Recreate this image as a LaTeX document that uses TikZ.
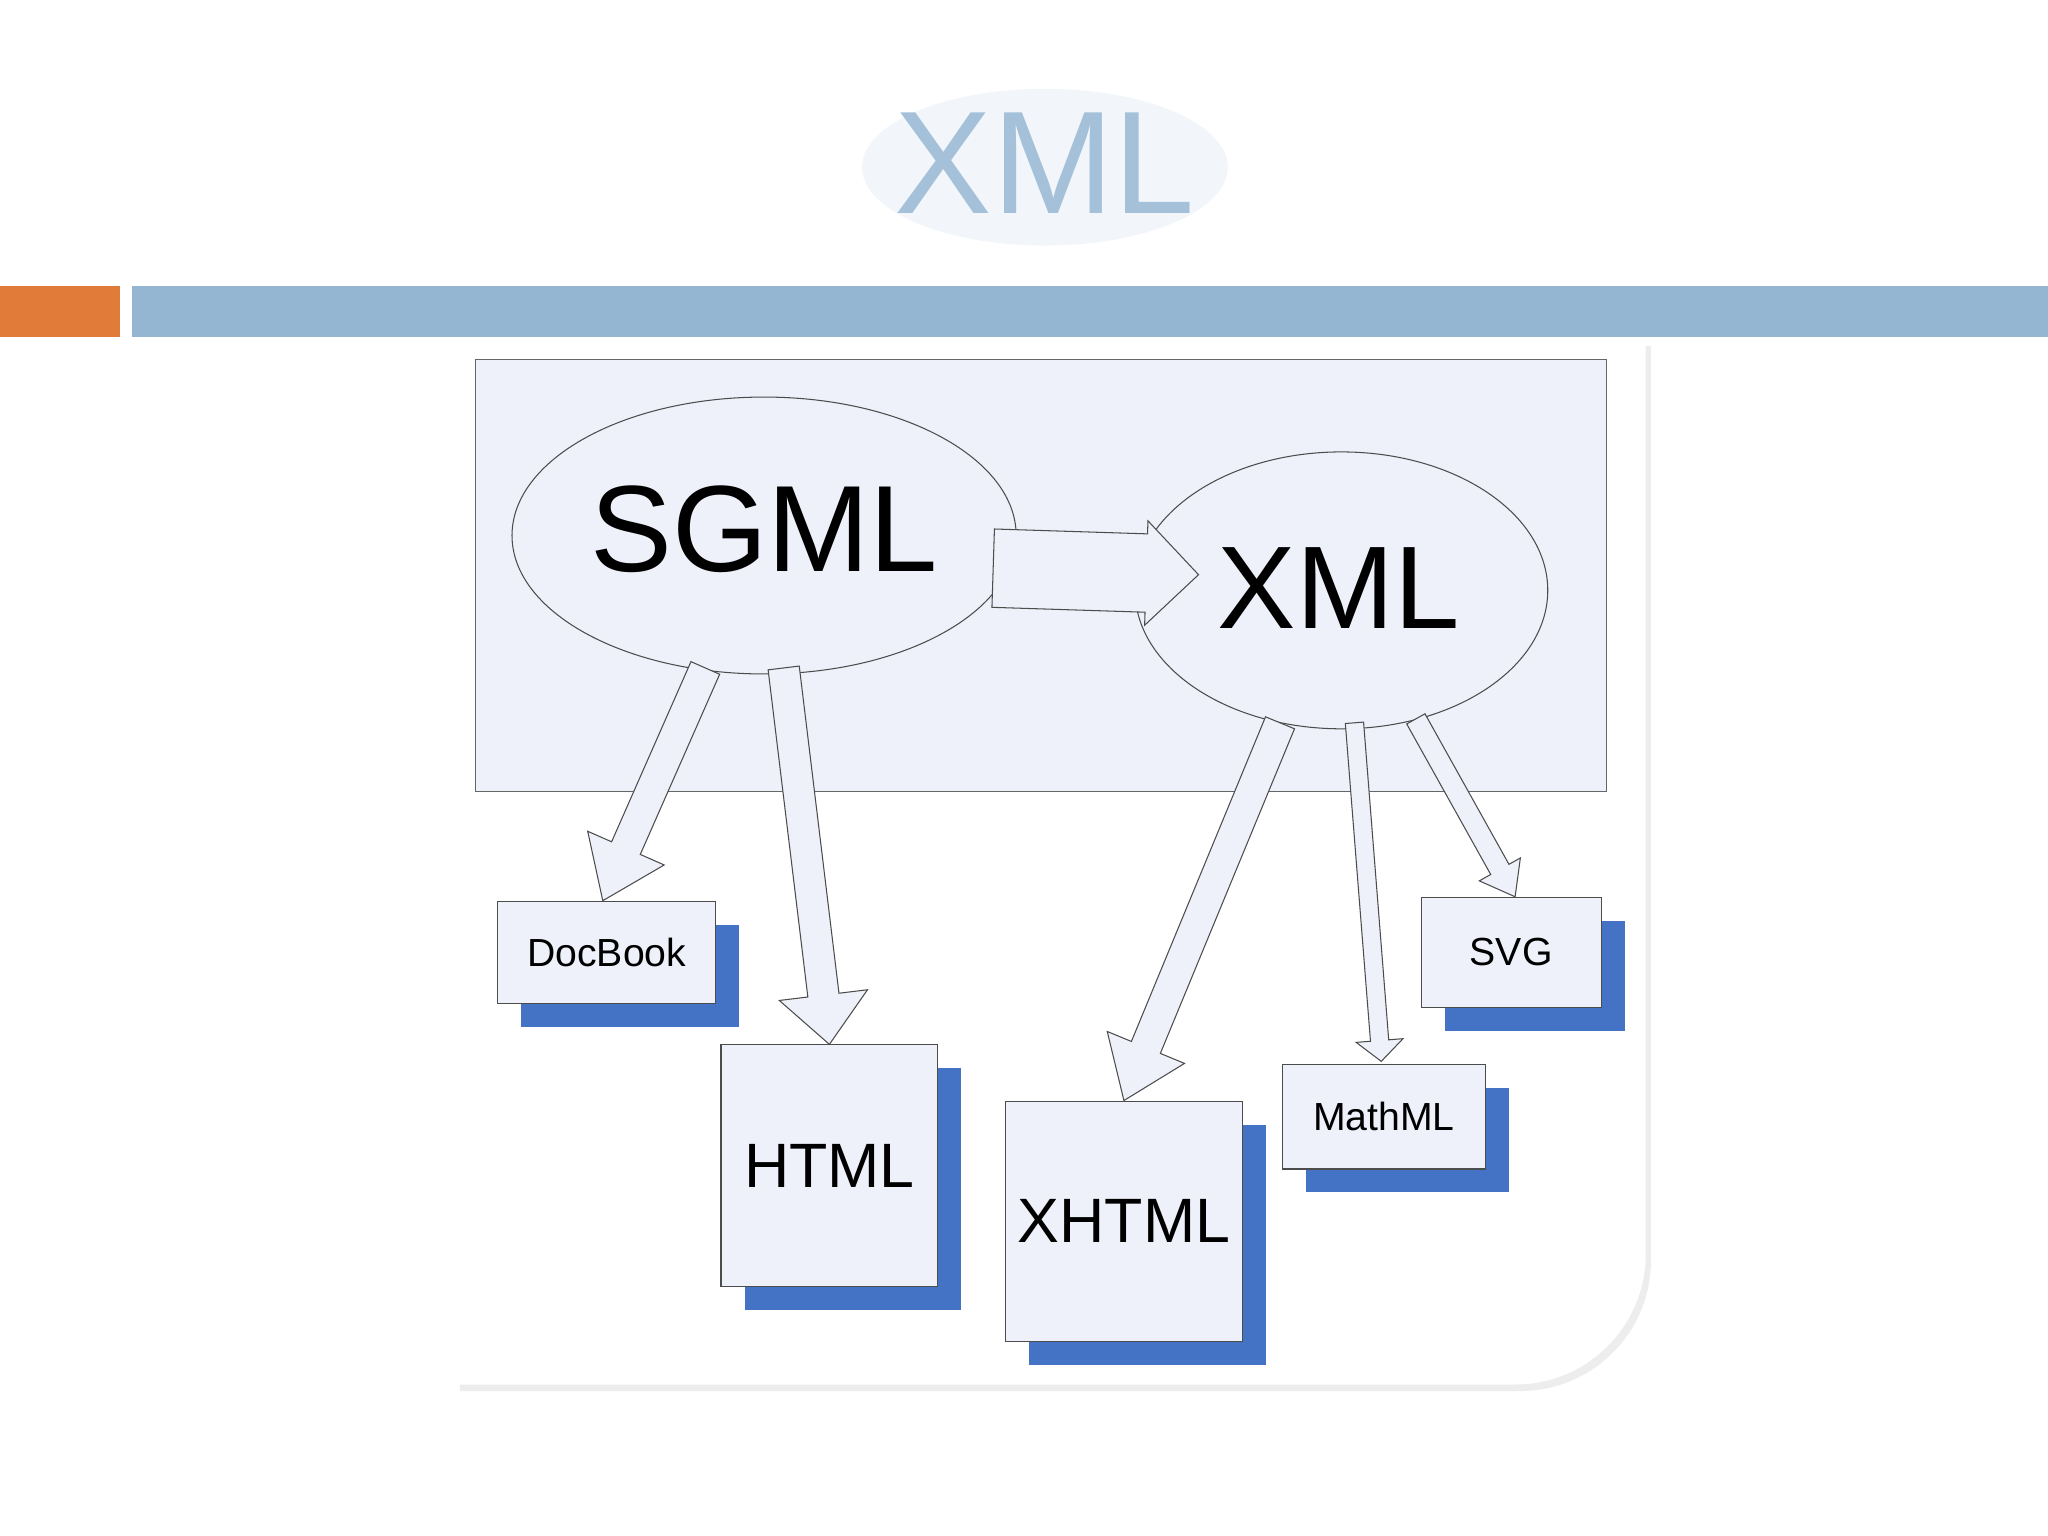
\documentclass[tikz,border=0pt]{standalone}
\usepackage{fontspec}
\setmainfont{Liberation Sans}
\usetikzlibrary{shapes.geometric,calc}
\definecolor{lav}{HTML}{EEF0FA}
\definecolor{shblue}{HTML}{4472C4}
\definecolor{barblue}{HTML}{94B6D2}
\definecolor{barorange}{HTML}{E07B39}
\tikzset{
  ell/.style={ellipse,draw=black!70,fill=lav,inner sep=0pt},
  boxn/.style={draw=black!70,fill=lav,inner sep=0pt},
  blk/.style={draw=black!70,fill=lav,line width=0.4pt},
}
% \blkarrow{start}{tip}{shaft half}{head half}{head length}
\newcommand{\blkarrow}[5]{%
  \draw[blk] ($(#1)!#3!90:(#2)$) -- ($($(#2)!#5!(#1)$)!#3!-90:(#1)$)
    -- ($($(#2)!#5!(#1)$)!#4!-90:(#1)$) -- (#2)
    -- ($($(#2)!#5!(#1)$)!#4!90:(#1)$) -- ($($(#2)!#5!(#1)$)!#3!90:(#1)$)
    -- ($(#1)!#3!-90:(#2)$) -- cycle;}
\newcommand{\panelpath}{(448,260) -- (1260,260) -- (1260,960) arc[start angle=0,end angle=-90,x radius=100,y radius=-100] -- (348,1060) -- (348,360) arc[start angle=180,end angle=90,x radius=100,y radius=-100] -- cycle}
\begin{document}
\begin{tikzpicture}[x=0.5pt,y=-0.5pt]
\useasboundingbox (0,0) rectangle (1568,1176);
\fill[white] (0,0) rectangle (1568,1176);
% title
\fill[barblue!12] (800,128) ellipse[x radius=140,y radius=60];
\node[text=barblue!85!white,font=\fontsize{56}{60}\selectfont] (title) at (800,125) {XML};
% bars
\fill[barorange] (0,219) rectangle (92,258);
\fill[barblue] (101,219) rectangle (1568,258);
% panel
\begin{scope}[shift={(4,5)}]
\fill[black!7] \panelpath;
\end{scope}
\fill[white] \panelpath;
\draw[black!60,fill=lav] (364,275) rectangle (1230,606);
% ellipses
\node[ell,minimum width=193pt,minimum height=106pt] (sgml) at (585,410) {};
\node[font=\fontsize{47}{52}\selectfont] (sgmlt) at (585,405) {SGML};
\node[ell,minimum width=158pt,minimum height=106pt] (xml) at (1027,452) {};
\node[font=\fontsize{45}{50}\selectfont] (xmlt) at (1025,450) {XML};
% boxes with shadows
\foreach \n/\xa/\ya/\xb/\yb/\t/\fs in {doc/381/690/548/768/DocBook/15,html/552/800/718/985/HTML/24,xhtml/770/843/951/1027/XHTML/24,mathml/982/815/1137/895/MathML/15,svg/1088/687/1226/771/SVG/15}{
  \fill[shblue] (\xa+18,\ya+18) rectangle (\xb+18,\yb+18);
  \node[boxn,minimum width={(\xb-\xa)*0.5pt},minimum height={(\yb-\ya)*0.5pt},font=\fontsize{\fs}{\fs}\selectfont] (\n) at ({(\xa+\xb)/2},{(\ya+\yb)/2}) {\t};
}
% arrow endpoints
\coordinate (s1) at ($(sgml.east)+(-18,25)$);
\coordinate (t1) at ($(xml.west)+(49,-12)$);
\coordinate (s2) at ($(sgml.south)+(-45,-5)$);
\coordinate (t2) at ($(doc.north)+(-3,0)$);
\coordinate (s3) at ($(sgml.south)+(15,-5)$);
\coordinate (t3) at ($(html.north)$);
\coordinate (s4) at ($(xml.south)+(-47,-5)$);
\coordinate (t4) at ($(xhtml.north)$);
\coordinate (s5) at ($(xml.south)+(10,-5)$);
\coordinate (t5) at ($(mathml.north)+(-2,-2)$);
\coordinate (s6) at ($(xml.south)+(57,-8)$);
\coordinate (t6) at ($(svg.north)+(3,0)$);
\blkarrow{s1}{t1}{15pt}{20pt}{20pt}
\blkarrow{s2}{t2}{6pt}{16pt}{22pt}
\blkarrow{s3}{t3}{6pt}{17pt}{19pt}
\blkarrow{s4}{t4}{6pt}{16pt}{22pt}
\blkarrow{s5}{t5}{3.5pt}{9pt}{8pt}
\blkarrow{s6}{t6}{4pt}{9pt}{12pt}
\end{tikzpicture}
\end{document}
